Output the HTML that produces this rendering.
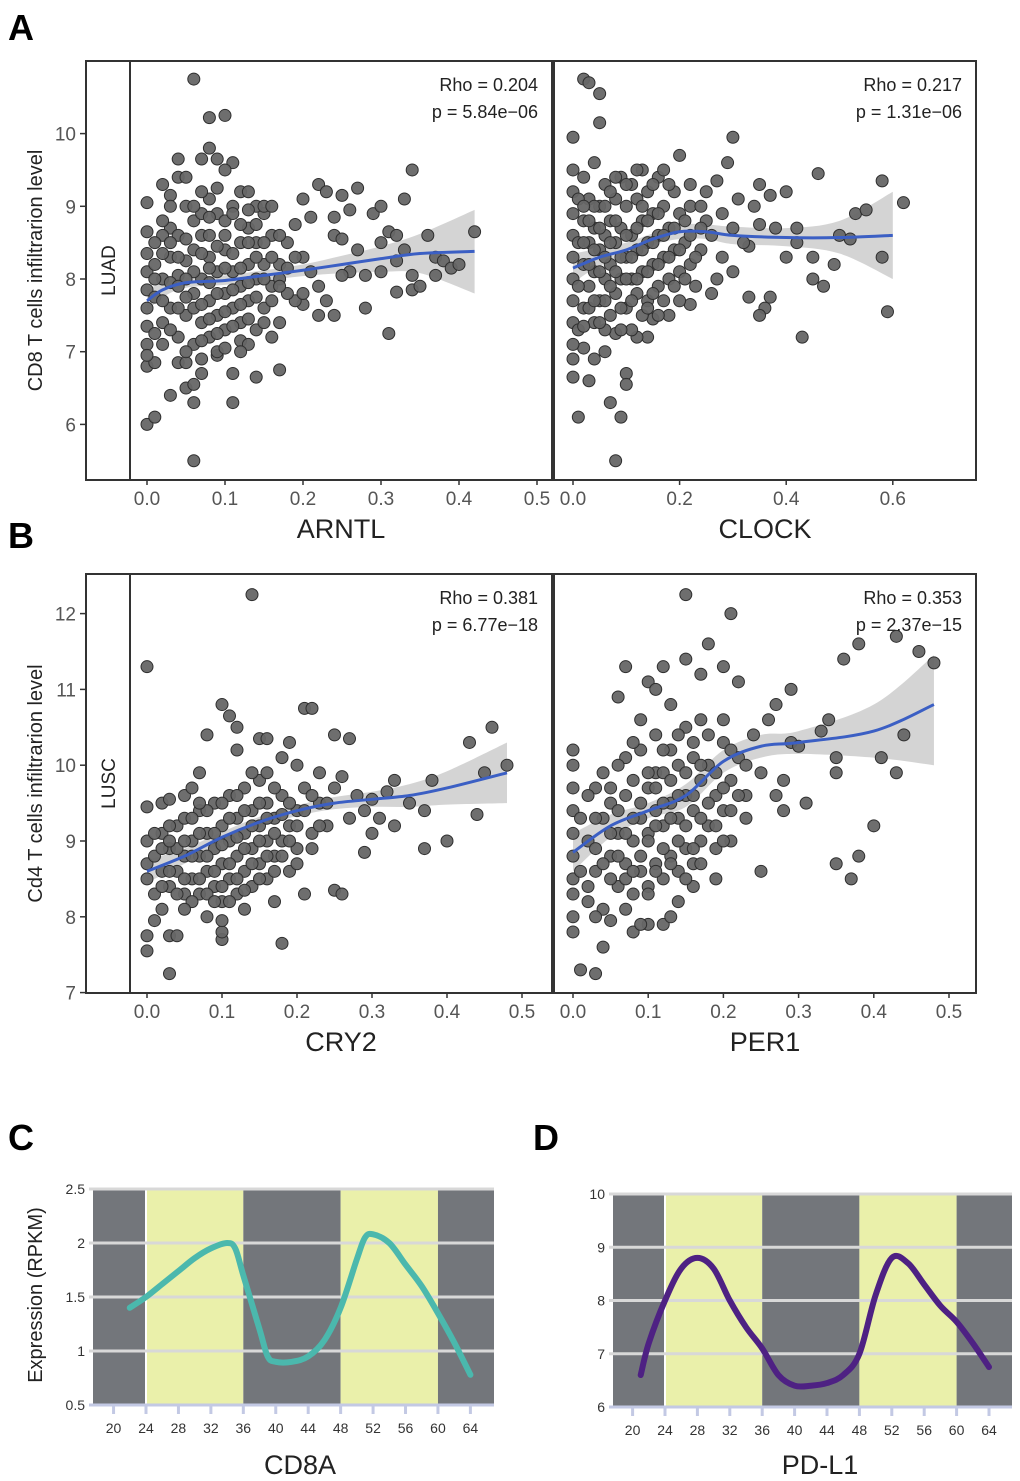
<!DOCTYPE html>
<html><head><meta charset="utf-8"><style>
html,body{margin:0;padding:0;background:#fff;}
svg{display:block;font-family:"Liberation Sans",Arial,sans-serif;}
</style></head><body>
<svg id="fig" width="1020" height="1481" viewBox="0 0 1020 1481" xmlns="http://www.w3.org/2000/svg">
<text x="8" y="40" font-size="36" font-weight="bold">A</text>
<text x="8" y="548" font-size="36" font-weight="bold">B</text>
<text x="8" y="1150" font-size="36" font-weight="bold">C</text>
<text x="533" y="1150" font-size="36" font-weight="bold">D</text>
</svg>
<script>
// ---- data: panel A (LUAD, CD8) ----
const arntlPts = [[0.06,10.75],[0.08,10.22],[0.1,10.25],[0.08,9.8],[0.07,9.65],[0.09,9.65],[0.11,9.6],[0.04,9.65],[0.04,9.4],[0.05,9.4],[0.1,9.5],[0.34,9.5],[0.0,9.05],[0.02,9.3],[0.03,9.15],[0.33,9.1],[0.2,9.1],[0.22,9.3],[0.23,9.2],[0.25,9.15],[0.27,9.25],[0.29,8.9],[0.3,9.0],[0.26,8.95],[0.24,8.85],[0.21,8.85],[0.19,8.75],[0.31,8.65],[0.32,8.6],[0.36,8.6],[0.42,8.65],[0.24,8.6],[0.25,8.55],[0.27,8.4],[0.3,8.5],[0.32,8.25],[0.33,8.4],[0.37,8.3],[0.38,8.25],[0.39,8.15],[0.4,8.2],[0.37,8.05],[0.34,8.05],[0.3,8.1],[0.28,8.05],[0.26,8.1],[0.25,8.05],[0.34,7.85],[0.32,7.82],[0.35,7.9],[0.31,7.25],[0.28,7.6],[0.24,7.5],[0.22,7.5],[0.2,7.65],[0.17,6.75],[0.14,6.65],[0.11,6.7],[0.11,6.3],[0.06,6.3],[0.03,6.4],[0.05,6.5],[0.06,6.55],[0.07,6.7],[0.0,6.0],[0.01,6.1],[0.06,5.5],[0.0,6.8],[0.01,6.85],[0.04,6.85],[0.05,6.85],[0.07,6.9],[0.09,6.95],[0.12,7.15],[0.13,7.1],[0.14,7.3],[0.16,7.2],[0.17,7.4],[0.19,7.7],[0.2,7.8],[0.23,7.7],[0.22,7.9],[0.21,8.1],[0.2,8.3],[0.18,8.5],[0.17,8.2],[0.16,8.6],[0.15,8.9],[0.14,9.0],[0.13,8.7],[0.12,9.2],[0.11,9.0],[0.09,8.9],[0.08,9.1],[0.07,8.6],[0.06,8.8],[0.05,9.0],[0.03,8.7],[0.02,8.6],[0.01,8.5],[0.0,8.65],[0.0,8.35],[0.0,8.1],[0.0,7.85],[0.0,7.6],[0.0,7.35],[0.0,7.1],[0.0,6.95],[0.01,7.75],[0.01,8.2],[0.02,7.4],[0.02,8.0],[0.03,7.6],[0.03,8.3],[0.04,7.2],[0.04,8.05],[0.04,8.6],[0.05,7.5],[0.05,8.25],[0.06,7.1],[0.06,7.8],[0.06,8.4],[0.07,7.4],[0.07,8.0],[0.07,8.9],[0.08,7.2],[0.08,7.7],[0.08,8.3],[0.08,8.6],[0.09,7.5],[0.09,8.1],[0.09,7.0],[0.1,7.8],[0.1,8.4],[0.1,8.8],[0.1,7.3],[0.11,8.1],[0.11,7.6],[0.12,7.9],[0.12,8.5],[0.12,7.4],[0.13,8.2],[0.13,7.7],[0.14,8.0],[0.14,8.5],[0.15,7.6],[0.15,8.2],[0.16,7.9],[0.17,8.0],[0.18,7.8],[0.19,8.3],[0.13,9.2],[0.15,9.0],
[0.01,7.25],[0.01,8.0],[0.02,7.7],[0.02,8.35],[0.02,8.8],[0.03,7.3],[0.03,7.95],[0.03,8.5],[0.04,7.6],[0.04,8.3],[0.05,7.0],[0.05,7.75],[0.05,8.55],[0.06,7.6],[0.06,8.1],[0.06,9.0],[0.07,7.15],[0.07,7.65],[0.07,8.35],[0.08,7.45],[0.08,7.95],[0.08,8.85],[0.09,7.25],[0.09,7.8],[0.09,8.45],[0.1,7.05],[0.1,7.55],[0.1,8.15],[0.1,8.6],[0.11,7.35],[0.11,7.85],[0.11,8.35],[0.12,7.65],[0.12,8.15],[0.12,8.75],[0.13,7.45],[0.13,7.95],[0.13,8.5],[0.14,7.75],[0.14,8.3],[0.14,8.75],[0.15,7.4],[0.15,8.0],[0.15,8.5],[0.16,7.7],[0.16,8.3],[0.17,7.9],[0.17,8.6],[0.18,8.15],[0.12,7.0],[0.03,9.0],[0.07,9.2],[0.11,8.9],[0.02,7.1],[0.05,8.0],[0.09,9.25],[0.13,8.95],[0.16,9.0],[0.04,7.9],[0.08,8.15]];
const arntlFitX = [0,0.02,0.05,0.1,0.15,0.2,0.25,0.3,0.35,0.42];
const arntlFitY = [7.7,7.85,7.95,7.98,8.05,8.12,8.2,8.28,8.35,8.38];
const arntlHi = [7.85,7.95,8.02,8.05,8.12,8.2,8.32,8.45,8.62,8.95];
const arntlLo = [7.55,7.75,7.88,7.92,7.98,8.04,8.08,8.1,8.08,7.8];

const clockPts = [[0.02,10.75],[0.03,10.7],[0.05,10.55],[0.0,9.95],[0.05,10.15],[0.3,9.95],[0.0,6.65],[0.03,6.6],[0.01,6.1],[0.07,6.3],[0.09,6.1],[0.08,5.5],[0.1,6.7],[0.1,6.55],[0.58,9.35],[0.62,9.05],[0.59,7.55],[0.43,7.2],[0.37,7.75],[0.36,7.6],[0.33,7.75],[0.35,7.5],[0.47,7.9],[0.49,8.2],[0.52,8.55],[0.58,8.3],[0.5,8.6],[0.45,8.0],[0.42,8.5],[0.4,8.3],[0.35,8.75],[0.33,8.45],[0.46,9.45],[0.4,9.2],[0.37,9.15],[0.34,9.0],[0.31,9.1],[0.35,9.3],[0.27,9.35],[0.29,9.6],[0.25,9.2],[0.22,9.3],[0.2,9.7],[0.25,8.8],[0.28,8.9],[0.45,8.3],[0.53,8.9],[0.55,8.95],[0.3,8.1],[0.27,8.0],[0.26,7.8],[0.22,7.65],[0.2,7.7],[0.18,7.5],[0.15,7.45],[0.14,7.2],[0.12,7.2],[0.08,7.25],[0.06,7.0],[0.04,6.9],[0.02,7.05],[0.0,7.1],[0.0,7.4],[0.0,7.7],[0.0,8.0],[0.0,8.3],[0.0,8.6],[0.0,8.9],[0.0,9.2],[0.0,9.5],[0.0,6.9],[0.02,7.6],[0.02,8.2],[0.02,8.8],[0.02,9.4],[0.03,7.9],[0.03,8.5],[0.03,9.1],[0.04,7.4],[0.04,8.1],[0.04,8.7],[0.04,9.6],[0.05,7.7],[0.05,8.4],[0.05,9.0],[0.06,8.0],[0.06,8.6],[0.06,9.3],[0.07,7.5],[0.07,8.2],[0.07,8.8],[0.08,7.8],[0.08,8.5],[0.08,9.1],[0.09,8.0],[0.09,8.7],[0.09,9.4],[0.1,7.6],[0.1,8.3],[0.1,9.0],[0.11,8.0],[0.11,8.6],[0.11,9.3],[0.12,7.8],[0.12,8.4],[0.12,9.1],[0.13,8.1],[0.13,8.8],[0.13,9.5],[0.14,7.7],[0.14,8.5],[0.14,9.2],[0.15,8.2],[0.15,8.9],[0.16,7.9],[0.16,8.6],[0.16,9.4],[0.17,8.3],[0.17,9.0],[0.18,8.0],[0.18,8.7],[0.19,8.4],[0.19,9.2],[0.2,8.1],[0.2,8.9],[0.21,8.5],[0.22,8.2],[0.22,9.0],[0.24,8.4],[0.24,9.0],[0.26,8.6],[0.28,8.3],[0.3,8.7],[0.32,8.5],[0.38,8.7],[0.42,8.7],[0.11,7.3],[0.06,7.3],[0.16,7.5],[0.23,7.9],
[0.01,7.3],[0.01,7.9],[0.01,8.5],[0.01,9.1],[0.02,7.35],[0.02,8.5],[0.03,7.6],[0.03,8.2],[0.03,8.8],[0.04,8.4],[0.04,9.0],[0.05,7.4],[0.05,8.1],[0.05,8.7],[0.06,7.7],[0.06,8.3],[0.06,9.0],[0.07,7.9],[0.07,8.5],[0.07,9.2],[0.08,8.1],[0.08,8.8],[0.08,9.4],[0.09,7.6],[0.09,8.3],[0.1,8.0],[0.1,8.6],[0.1,9.3],[0.11,7.7],[0.11,8.3],[0.12,8.0],[0.12,8.7],[0.13,7.5],[0.13,8.4],[0.13,9.0],[0.14,8.1],[0.14,8.8],[0.15,7.8],[0.15,8.5],[0.15,9.3],[0.16,8.2],[0.16,8.9],[0.17,7.7],[0.17,8.6],[0.18,8.3],[0.18,9.3],[0.19,7.9],[0.19,8.7],[0.2,8.4],[0.21,8.0],[0.21,8.8],[0.22,8.6],[0.23,8.3],[0.24,8.7],[0.12,9.5],[0.17,9.5],[0.04,7.7],[0.09,7.3],[0.14,7.6],[0.02,9.0]];
const clockFitX = [0,0.05,0.1,0.15,0.2,0.25,0.3,0.4,0.5,0.6];
const clockFitY = [8.15,8.3,8.4,8.55,8.65,8.65,8.6,8.57,8.57,8.6];
const clockHi = [8.35,8.42,8.5,8.63,8.75,8.75,8.72,8.7,8.8,9.2];
const clockLo = [7.95,8.18,8.3,8.47,8.55,8.55,8.48,8.45,8.35,8.0];

// ---- data: panel B (LUSC, CD4) ----
const cry2Pts = [[0.14,12.25],[0.0,11.3],[0.1,10.8],[0.11,10.65],[0.12,10.5],[0.08,10.4],[0.15,10.35],[0.16,10.35],[0.21,10.75],[0.22,10.75],[0.25,10.4],[0.27,10.35],[0.43,10.3],[0.46,10.5],[0.48,10.0],[0.45,9.9],[0.38,9.8],[0.35,9.5],[0.32,9.65],[0.31,9.3],[0.3,9.1],[0.33,9.2],[0.37,9.4],[0.4,9.0],[0.44,9.35],[0.37,8.9],[0.29,8.85],[0.25,8.35],[0.26,8.3],[0.21,8.3],[0.18,7.65],[0.0,7.55],[0.0,7.75],[0.03,7.25],[0.03,7.75],[0.04,7.75],[0.01,7.95],[0.02,8.1],[0.1,7.7],[0.1,7.8],[0.1,7.95],[0.05,8.3],[0.0,8.5],[0.0,8.7],[0.0,9.0],[0.0,9.45],[0.02,9.5],[0.03,9.55],[0.05,9.6],[0.06,9.7],[0.07,9.9],[0.12,10.2],[0.18,10.1],[0.2,10.0],[0.23,9.9],[0.26,9.85],[0.28,9.6],[0.3,9.55],[0.01,8.8],[0.02,8.6],[0.02,9.1],[0.03,8.4],[0.03,8.9],[0.04,8.6],[0.04,9.2],[0.05,8.8],[0.05,9.3],[0.06,8.5],[0.06,9.0],[0.07,8.3],[0.07,8.8],[0.07,9.4],[0.08,8.6],[0.08,9.1],[0.09,8.4],[0.09,8.9],[0.09,9.5],[0.1,8.2],[0.1,8.7],[0.1,9.2],[0.11,8.5],[0.11,9.0],[0.11,9.6],[0.12,8.3],[0.12,8.8],[0.12,9.3],[0.13,8.6],[0.13,9.1],[0.13,9.7],[0.14,8.4],[0.14,8.9],[0.14,9.4],[0.15,8.7],[0.15,9.2],[0.15,9.8],[0.16,8.5],[0.16,9.0],[0.16,9.5],[0.17,8.8],[0.17,9.3],[0.18,9.0],[0.18,9.6],[0.19,8.6],[0.19,9.2],[0.2,9.4],[0.2,8.9],[0.21,9.7],[0.22,9.1],[0.23,9.5],[0.24,9.2],[0.25,9.7],[0.27,9.3],[0.29,9.4],[0.33,9.8],[0.13,8.1],[0.08,8.0],[0.17,8.2],
[0.01,8.3],[0.01,9.1],[0.02,8.4],[0.02,8.9],[0.03,8.6],[0.03,9.2],[0.04,8.3],[0.04,8.9],[0.05,8.5],[0.05,9.0],[0.06,8.2],[0.06,8.8],[0.06,9.3],[0.07,8.5],[0.07,9.1],[0.08,8.3],[0.08,8.8],[0.08,9.4],[0.09,8.6],[0.09,9.1],[0.1,8.4],[0.1,8.95],[0.1,9.5],[0.11,8.7],[0.11,9.3],[0.12,8.5],[0.12,9.05],[0.12,9.6],[0.13,8.35],[0.13,8.9],[0.13,9.4],[0.14,8.7],[0.14,9.2],[0.14,9.9],[0.15,8.5],[0.15,9.0],[0.15,9.5],[0.16,8.8],[0.16,9.3],[0.17,8.6],[0.17,9.1],[0.17,9.7],[0.18,8.8],[0.18,9.35],[0.19,9.0],[0.19,9.5],[0.2,8.7],[0.2,9.2],[0.21,9.4],[0.22,8.9],[0.22,9.6],[0.23,9.2],[0.24,9.5],[0.09,8.2],[0.05,8.1],[0.11,8.2],[0.07,9.5],[0.16,9.9],[0.03,9.0],[0.19,10.3]];
const cry2FitX = [0,0.05,0.1,0.15,0.2,0.25,0.3,0.35,0.4,0.48];
const cry2FitY = [8.6,8.8,9.05,9.25,9.4,9.5,9.55,9.6,9.7,9.9];
const cry2Hi = [8.75,8.9,9.12,9.32,9.47,9.58,9.65,9.75,9.92,10.3];
const cry2Lo = [8.45,8.7,8.98,9.18,9.33,9.42,9.45,9.45,9.48,9.5];

const per1Pts = [[0.15,12.25],[0.21,12.0],[0.18,11.6],[0.12,11.3],[0.1,11.1],[0.07,11.3],[0.06,10.9],[0.2,11.3],[0.22,11.1],[0.27,10.8],[0.29,11.0],[0.26,10.6],[0.33,10.45],[0.36,11.4],[0.38,11.6],[0.43,11.7],[0.46,11.5],[0.48,11.35],[0.44,10.4],[0.41,10.1],[0.43,9.9],[0.35,10.1],[0.35,9.9],[0.34,10.6],[0.29,10.3],[0.3,10.25],[0.28,9.8],[0.25,9.9],[0.27,9.6],[0.23,9.6],[0.31,9.5],[0.4,9.2],[0.37,8.5],[0.38,8.8],[0.35,8.7],[0.25,8.6],[0.28,9.4],[0.0,10.2],[0.0,10.0],[0.0,9.7],[0.0,9.4],[0.0,9.1],[0.0,8.8],[0.0,8.5],[0.0,8.3],[0.0,8.0],[0.0,7.8],[0.01,7.3],[0.03,7.25],[0.04,7.6],[0.02,8.2],[0.04,8.1],[0.07,8.1],[0.05,7.95],[0.03,8.0],[0.1,7.9],[0.12,7.9],[0.13,8.0],[0.08,7.8],[0.11,9.9],[0.07,10.1],[0.03,9.7],[0.05,9.7],[0.02,9.0],[0.03,8.6],[0.04,9.3],[0.05,8.8],[0.05,9.5],[0.06,8.4],[0.06,9.1],[0.07,8.7],[0.07,9.6],[0.08,8.3],[0.08,9.0],[0.08,9.8],[0.09,8.6],[0.09,9.3],[0.09,10.2],[0.1,8.4],[0.1,9.1],[0.1,9.7],[0.11,8.7],[0.11,9.4],[0.11,10.4],[0.12,8.5],[0.12,9.2],[0.12,9.9],[0.13,8.8],[0.13,9.5],[0.13,10.2],[0.14,8.6],[0.14,9.3],[0.14,10.0],[0.15,8.9],[0.15,9.6],[0.15,10.5],[0.16,8.7],[0.16,9.4],[0.16,10.1],[0.17,9.0],[0.17,9.8],[0.17,10.6],[0.18,9.2],[0.18,10.0],[0.19,8.9],[0.19,9.6],[0.2,9.4],[0.2,10.3],[0.21,9.8],[0.22,10.1],[0.23,9.3],[0.24,10.4],[0.16,8.4],[0.19,8.5],[0.21,9.0],[0.09,7.9],[0.14,8.2],
[0.01,8.6],[0.01,9.3],[0.02,8.4],[0.02,9.6],[0.03,8.9],[0.03,9.3],[0.04,8.7],[0.04,9.9],[0.05,8.5],[0.05,9.1],[0.06,8.8],[0.06,9.4],[0.06,10.0],[0.07,8.5],[0.07,9.1],[0.08,8.6],[0.08,9.3],[0.08,10.3],[0.09,8.8],[0.09,9.5],[0.1,8.3],[0.1,9.0],[0.1,9.9],[0.11,8.6],[0.11,9.2],[0.11,9.7],[0.12,8.9],[0.12,9.5],[0.12,10.2],[0.13,8.7],[0.13,9.3],[0.13,9.8],[0.14,9.0],[0.14,9.6],[0.14,10.4],[0.15,8.5],[0.15,9.2],[0.15,9.9],[0.16,8.9],[0.16,9.6],[0.16,10.3],[0.17,8.7],[0.17,9.3],[0.17,10.0],[0.18,9.5],[0.18,10.4],[0.19,9.2],[0.19,9.9],[0.2,9.0],[0.2,9.7],[0.21,9.4],[0.21,10.2],[0.22,9.6],[0.23,10.0],[0.09,10.6],[0.13,10.8],[0.17,11.2],[0.15,11.4],[0.11,11.0],[0.2,10.6]];
const per1FitX = [0,0.05,0.1,0.15,0.2,0.25,0.3,0.4,0.48];
const per1FitY = [8.85,9.2,9.4,9.6,10.05,10.25,10.3,10.45,10.8];
const per1Hi = [9.1,9.35,9.5,9.75,10.2,10.4,10.45,10.8,11.45];
const per1Lo = [8.6,9.05,9.3,9.45,9.9,10.1,10.15,10.1,10.0];

// ---- data: panels C/D ----
const ageTicks = [20,24,28,32,36,40,44,48,52,56,60,64];
const cd8aX = [22,24,26,28,30,32,34,35,36,38,39,40,42,44,46,48,50,51,52,54,56,58,60,62,64];
const cd8aY = [1.4,1.5,1.62,1.74,1.86,1.95,2.0,1.95,1.7,1.2,0.95,0.9,0.9,0.95,1.1,1.4,1.85,2.05,2.08,2.0,1.8,1.6,1.35,1.08,0.78];
const pdl1X = [21,22,24,26,28,30,32,34,36,38,40,42,44,46,48,50,52,54,56,58,60,62,64];
const pdl1Y = [6.6,7.2,8.0,8.6,8.8,8.6,8.0,7.5,7.1,6.6,6.4,6.4,6.45,6.6,7.0,8.1,8.8,8.7,8.3,7.9,7.6,7.2,6.75];
const cdTicks = [0.5,1,1.5,2,2.5];
const pdTicks = [6,7,8,9,10];

const NS = 'http://www.w3.org/2000/svg';
const svg = document.getElementById('fig');
function mk(tag, attrs, parent){const e=document.createElementNS(NS,tag);for(const k in attrs)e.setAttribute(k,attrs[k]);(parent||svg).appendChild(e);return e;}
function smooth(P){
  let d='M'+P[0][0]+','+P[0][1];
  for(let i=0;i<P.length-1;i++){
    const p0=P[Math.max(i-1,0)],p1=P[i],p2=P[i+1],p3=P[Math.min(i+2,P.length-1)];
    const c1=[p1[0]+(p2[0]-p0[0])/6,p1[1]+(p2[1]-p0[1])/6];
    const c2=[p2[0]-(p3[0]-p1[0])/6,p2[1]-(p3[1]-p1[1])/6];
    d+=`C${c1[0]},${c1[1]} ${c2[0]},${c2[1]} ${p2[0]},${p2[1]}`;
  }
  return d;
}

function scatterPanel(o){
  const g = mk('g',{});
  
  
  const sx = v => o.x0 + v*o.xs, sy = v => o.y0 - (v-o.yref)*o.ys;
  const up = o.fx.map((v,i)=>[sx(v),sy(o.hi[i])]);
  const dn = o.fx.map((v,i)=>[sx(v),sy(o.lo[i])]).reverse();
  const d = smooth(up) + smooth(dn).replace('M','L') + 'Z';
  const band = mk('path',{d:d,fill:'#bdbdbd','fill-opacity':'0.65'},g);
  
  
  o.pts.forEach(p=>{
    const c = mk('circle',{cx:sx(p[0]),cy:sy(p[1]),r:6,fill:'#666',stroke:'#2e2e2e','stroke-width':1,'fill-opacity':0.95},g);
    
    
  });
  const ln = mk('path',{d:smooth(o.fx.map((v,i)=>[sx(v),sy(o.fy[i])])),fill:'none',stroke:'#3b5fc4','stroke-width':3},g);
  
  
  mk('rect',{x:o.left,y:o.top,width:o.w,height:o.h,fill:'none',stroke:'#333','stroke-width':2},g);
  o.xticks.forEach(t=>{
    mk('line',{x1:sx(t),x2:sx(t),y1:o.top+o.h,y2:o.top+o.h+5,stroke:'#333','stroke-width':1.5},g);
    const tx = mk('text',{x:sx(t),y:o.top+o.h+25,'font-size':19,fill:'#555','text-anchor':'middle'},g);
    tx.textContent = t.toFixed(1);
    
    
  });
  const xt = mk('text',{x:o.left+o.w/2,y:o.top+o.h+58,'font-size':27,fill:'#222','text-anchor':'middle'},g);
  xt.textContent=o.xtitle;
  
  
  const r1 = mk('text',{x:o.left+o.w-14,y:o.top+30,'font-size':18,fill:'#222','text-anchor':'end'},g);
  r1.textContent=o.rho;
  
  
  const r2 = mk('text',{x:o.left+o.w-14,y:o.top+57,'font-size':18,fill:'#222','text-anchor':'end'},g);
  r2.textContent=o.p;
  
  
}
function rowFrame(o){
  const g = mk('g',{});
  
  
  mk('rect',{x:86,y:o.top,width:44,height:o.h,fill:'none',stroke:'#333','stroke-width':2},g);
  const st = mk('text',{x:0,y:0,'font-size':19,fill:'#222','text-anchor':'middle',transform:`translate(115,${o.top+o.h/2}) rotate(-90)`},g);
  st.textContent=o.strip;
  
  
  o.yticks.forEach(t=>{
    const y = o.y0 - (t-o.yref)*o.ys;
    mk('line',{x1:80,x2:86,y1:y,y2:y,stroke:'#333','stroke-width':1.5},g);
    const tx = mk('text',{x:76,y:y+7,'font-size':19,fill:'#555','text-anchor':'end'},g);
    tx.textContent=t;
    
    
  });
  const yt = mk('text',{x:0,y:0,'font-size':20,fill:'#222','text-anchor':'middle',transform:`translate(42,${o.top+o.h/2}) rotate(-90)`},g);
  yt.textContent=o.ytitle;
  
  
}
rowFrame({name:'row-a-frame',top:61,h:419,strip:'LUAD',ytitle:'CD8 T cells infiltrarion level',yticks:[6,7,8,9,10],y0:279,yref:8,ys:72.7});
scatterPanel({name:'scatter-arntl',left:130,top:61,w:422,h:419,x0:147,xs:780,y0:279,yref:8,ys:72.7,pts:arntlPts,fx:arntlFitX,fy:arntlFitY,hi:arntlHi,lo:arntlLo,xticks:[0,0.1,0.2,0.3,0.4,0.5],xtitle:'ARNTL',rho:'Rho = 0.204',p:'p = 5.84e−06'});
scatterPanel({name:'scatter-clock',left:554,top:61,w:422,h:419,x0:573,xs:533,y0:279,yref:8,ys:72.7,pts:clockPts,fx:clockFitX,fy:clockFitY,hi:clockHi,lo:clockLo,xticks:[0,0.2,0.4,0.6],xtitle:'CLOCK',rho:'Rho = 0.217',p:'p = 1.31e−06'});
rowFrame({name:'row-b-frame',top:574,h:419,strip:'LUSC',ytitle:'Cd4 T cells infiltrarion level',yticks:[7,8,9,10,11,12],y0:841,yref:9,ys:75.8});
scatterPanel({name:'scatter-cry2',left:130,top:574,w:422,h:419,x0:147,xs:750,y0:841,yref:9,ys:75.8,pts:cry2Pts,fx:cry2FitX,fy:cry2FitY,hi:cry2Hi,lo:cry2Lo,xticks:[0,0.1,0.2,0.3,0.4,0.5],xtitle:'CRY2',rho:'Rho = 0.381',p:'p = 6.77e−18'});
scatterPanel({name:'scatter-per1',left:554,top:574,w:422,h:419,x0:573,xs:752,y0:841,yref:9,ys:75.8,pts:per1Pts,fx:per1FitX,fy:per1FitY,hi:per1Hi,lo:per1Lo,xticks:[0,0.1,0.2,0.3,0.4,0.5],xtitle:'PER1',rho:'Rho = 0.353',p:'p = 2.37e−15'});

function linePanel(o){
  const g = mk('g',{});
  
  
  const sx = v => o.x24 + (v-24)*o.xs;
  const sy = v => o.bot - (v-o.ymin)/(o.ymax-o.ymin)*(o.bot-o.top);
  const bands = [[o.left,sx(24),'#73767b'],[sx(24),sx(36),'#eaf0aa'],[sx(36),sx(48),'#73767b'],[sx(48),sx(60),'#eaf0aa'],[sx(60),o.right,'#73767b']];
  bands.forEach(b=>{
    const r = mk('rect',{x:b[0],y:o.top,width:b[1]-b[0],height:o.bot-o.top,fill:b[2]},g);
    
    
  });
  mk('line',{x1:sx(24),x2:sx(24),y1:o.top,y2:o.bot,stroke:'#fff','stroke-width':2},g);
  o.yticks.forEach((t,i)=>{
    const y = sy(t);
    if(i>0) mk('line',{x1:o.left-4,x2:o.right,y1:y,y2:y,stroke:'#d8d8d8','stroke-width':3},g);
    const tx = mk('text',{x:o.left-8,y:y+5,'font-size':14,fill:'#333','text-anchor':'end'},g);
    tx.textContent=t;
    
    
  });
  mk('line',{x1:o.left-4,x2:o.right,y1:o.bot,y2:o.bot,stroke:'#c3c9e4','stroke-width':3},g);
  ageTicks.forEach(t=>{
    mk('line',{x1:sx(t),x2:sx(t),y1:o.bot,y2:o.bot+9,stroke:'#c3c9e4','stroke-width':3},g);
    const tx = mk('text',{x:sx(t),y:o.bot+28,'font-size':14,fill:'#333','text-anchor':'middle'},g);
    tx.textContent=t;
    
    
  });
  const ln = mk('path',{d:smooth(o.xs_.map((v,i)=>[sx(v),sy(o.ys_[i])])),fill:'none',stroke:o.color,'stroke-width':6,'stroke-linejoin':'round','stroke-linecap':'round'},g);
  
  
  const xt = mk('text',{x:o.titleX,y:1474,'font-size':27,fill:'#222','text-anchor':'middle'},g);
  xt.textContent=o.title;
  
  
}
linePanel({name:'line-cd8a',left:93,right:494,top:1189,bot:1405,x24:146,xs:8.11,ymin:0.5,ymax:2.5,yticks:cdTicks,xs_:cd8aX,ys_:cd8aY,color:'#4bb8ad',title:'CD8A',titleX:300});
linePanel({name:'line-pdl1',left:613,right:1012,top:1194,bot:1407,x24:665,xs:8.1,ymin:6,ymax:10,yticks:pdTicks,xs_:pdl1X,ys_:pdl1Y,color:'#4e2183',title:'PD-L1',titleX:820});
const yc = mk('text',{x:0,y:0,'font-size':20,fill:'#222','text-anchor':'middle',transform:'translate(42,1295) rotate(-90)'});
yc.textContent='Expression (RPKM)';


</script>
</body></html>
